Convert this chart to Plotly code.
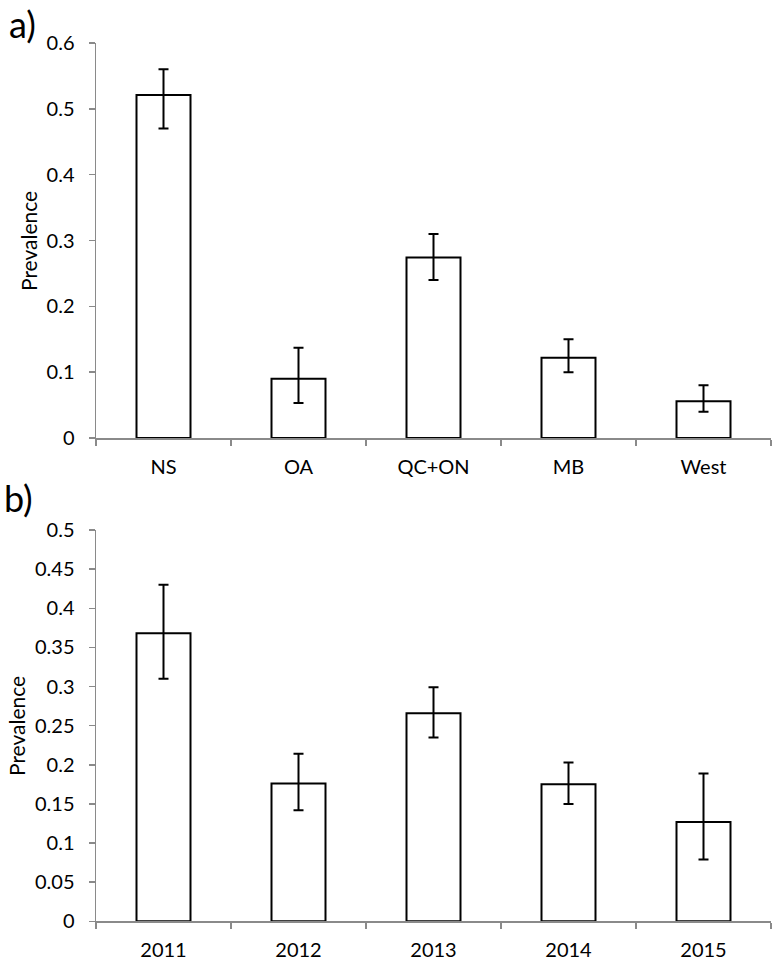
import plotly.graph_objects as go

regions = ["NS", "OA", "QC+ON", "MB", "West"]
region_prev = [0.521, 0.090, 0.274, 0.122, 0.056]
region_upper = [0.560, 0.137, 0.310, 0.150, 0.080]
region_lower = [0.470, 0.053, 0.240, 0.100, 0.040]

years = ["2011", "2012", "2013", "2014", "2015"]
year_prev = [0.368, 0.176, 0.266, 0.175, 0.127]
year_upper = [0.430, 0.214, 0.299, 0.203, 0.189]
year_lower = [0.310, 0.142, 0.235, 0.150, 0.079]

FONT = "Lato, 'Open Sans', sans-serif"
AXC = "#8a8a8a"

def bar(x, y, up, lo, xa, ya):
    return go.Bar(
        x=x, y=y, xaxis=xa, yaxis=ya, width=0.4,
        marker=dict(color="white", line=dict(color="black", width=2)),
        error_y=dict(type="data", symmetric=False,
                     array=[u - v for u, v in zip(up, y)],
                     arrayminus=[v - l for v, l in zip(y, lo)],
                     color="black", thickness=2, width=5),
        showlegend=False, hoverinfo="skip",
    )

fig = go.Figure()
fig.add_trace(bar(regions, region_prev, region_upper, region_lower, "x", "y"))
fig.add_trace(bar(years, year_prev, year_upper, year_lower, "x2", "y2"))

W, H = 775, 961
xdom = [96 / W, 771 / W]

common_x = dict(type="category", range=[-0.5, 4.5], showline=True, linecolor=AXC,
                linewidth=1.5, ticks="outside", tickson="boundaries", ticklen=6,
                tickcolor=AXC, tickwidth=1.5, showgrid=False, zeroline=False,
                tickfont=dict(family=FONT, size=20, color="black"), automargin=False,
                ticklabelstandoff=10, fixedrange=True)
common_y = dict(showline=True, linecolor=AXC, linewidth=1.5, ticks="outside",
                ticklen=6, tickcolor=AXC, tickwidth=1.5, showgrid=False, zeroline=False,
                tickfont=dict(family=FONT, size=20, color="black"), automargin=False,
                ticklabelstandoff=10, fixedrange=True)

fig.update_layout(
    width=W, height=H,
    margin=dict(l=0, r=0, t=0, b=0),
    paper_bgcolor="white", plot_bgcolor="white",
    bargap=0.6,
    xaxis=dict(common_x, domain=xdom, anchor="y"),
    yaxis=dict(common_y, domain=[1 - 438 / H, 1 - 43 / H], range=[0, 0.6],
               tickvals=[0, 0.1, 0.2, 0.3, 0.4, 0.5, 0.6],
               ticktext=["0", "0.1", "0.2", "0.3", "0.4", "0.5", "0.6"], anchor="x"),
    xaxis2=dict(common_x, domain=xdom, anchor="y2"),
    yaxis2=dict(common_y, domain=[1 - 921.3 / H, 1 - 530 / H], range=[0, 0.5],
                tickvals=[0, 0.05, 0.1, 0.15, 0.2, 0.25, 0.3, 0.35, 0.4, 0.45, 0.5],
                ticktext=["0", "0.05", "0.1", "0.15", "0.2", "0.25", "0.3", "0.35",
                          "0.4", "0.45", "0.5"], anchor="x2"),
    annotations=[
        dict(text="a)", x=7 / W, y=1.0, xref="paper", yref="paper",
             xanchor="left", yanchor="top", showarrow=False,
             font=dict(family=FONT, size=36, color="black")),
        dict(text="b)", x=2 / W, y=1 - 498 / H, xref="paper", yref="paper",
             xanchor="left", yanchor="middle", showarrow=False,
             font=dict(family=FONT, size=36, color="black")),
        dict(text="Prevalence", x=28 / W, y=1 - 241 / H, xref="paper", yref="paper",
             xanchor="center", yanchor="middle", textangle=-90, showarrow=False,
             font=dict(family=FONT, size=21, color="black")),
        dict(text="Prevalence", x=16 / W, y=1 - 726 / H, xref="paper", yref="paper",
             xanchor="center", yanchor="middle", textangle=-90, showarrow=False,
             font=dict(family=FONT, size=21, color="black")),
    ],
)

fig.write_html("out.html", config={"displayModeBar": False, "staticPlot": True},
               post_script="document.body.style.margin='0';")
